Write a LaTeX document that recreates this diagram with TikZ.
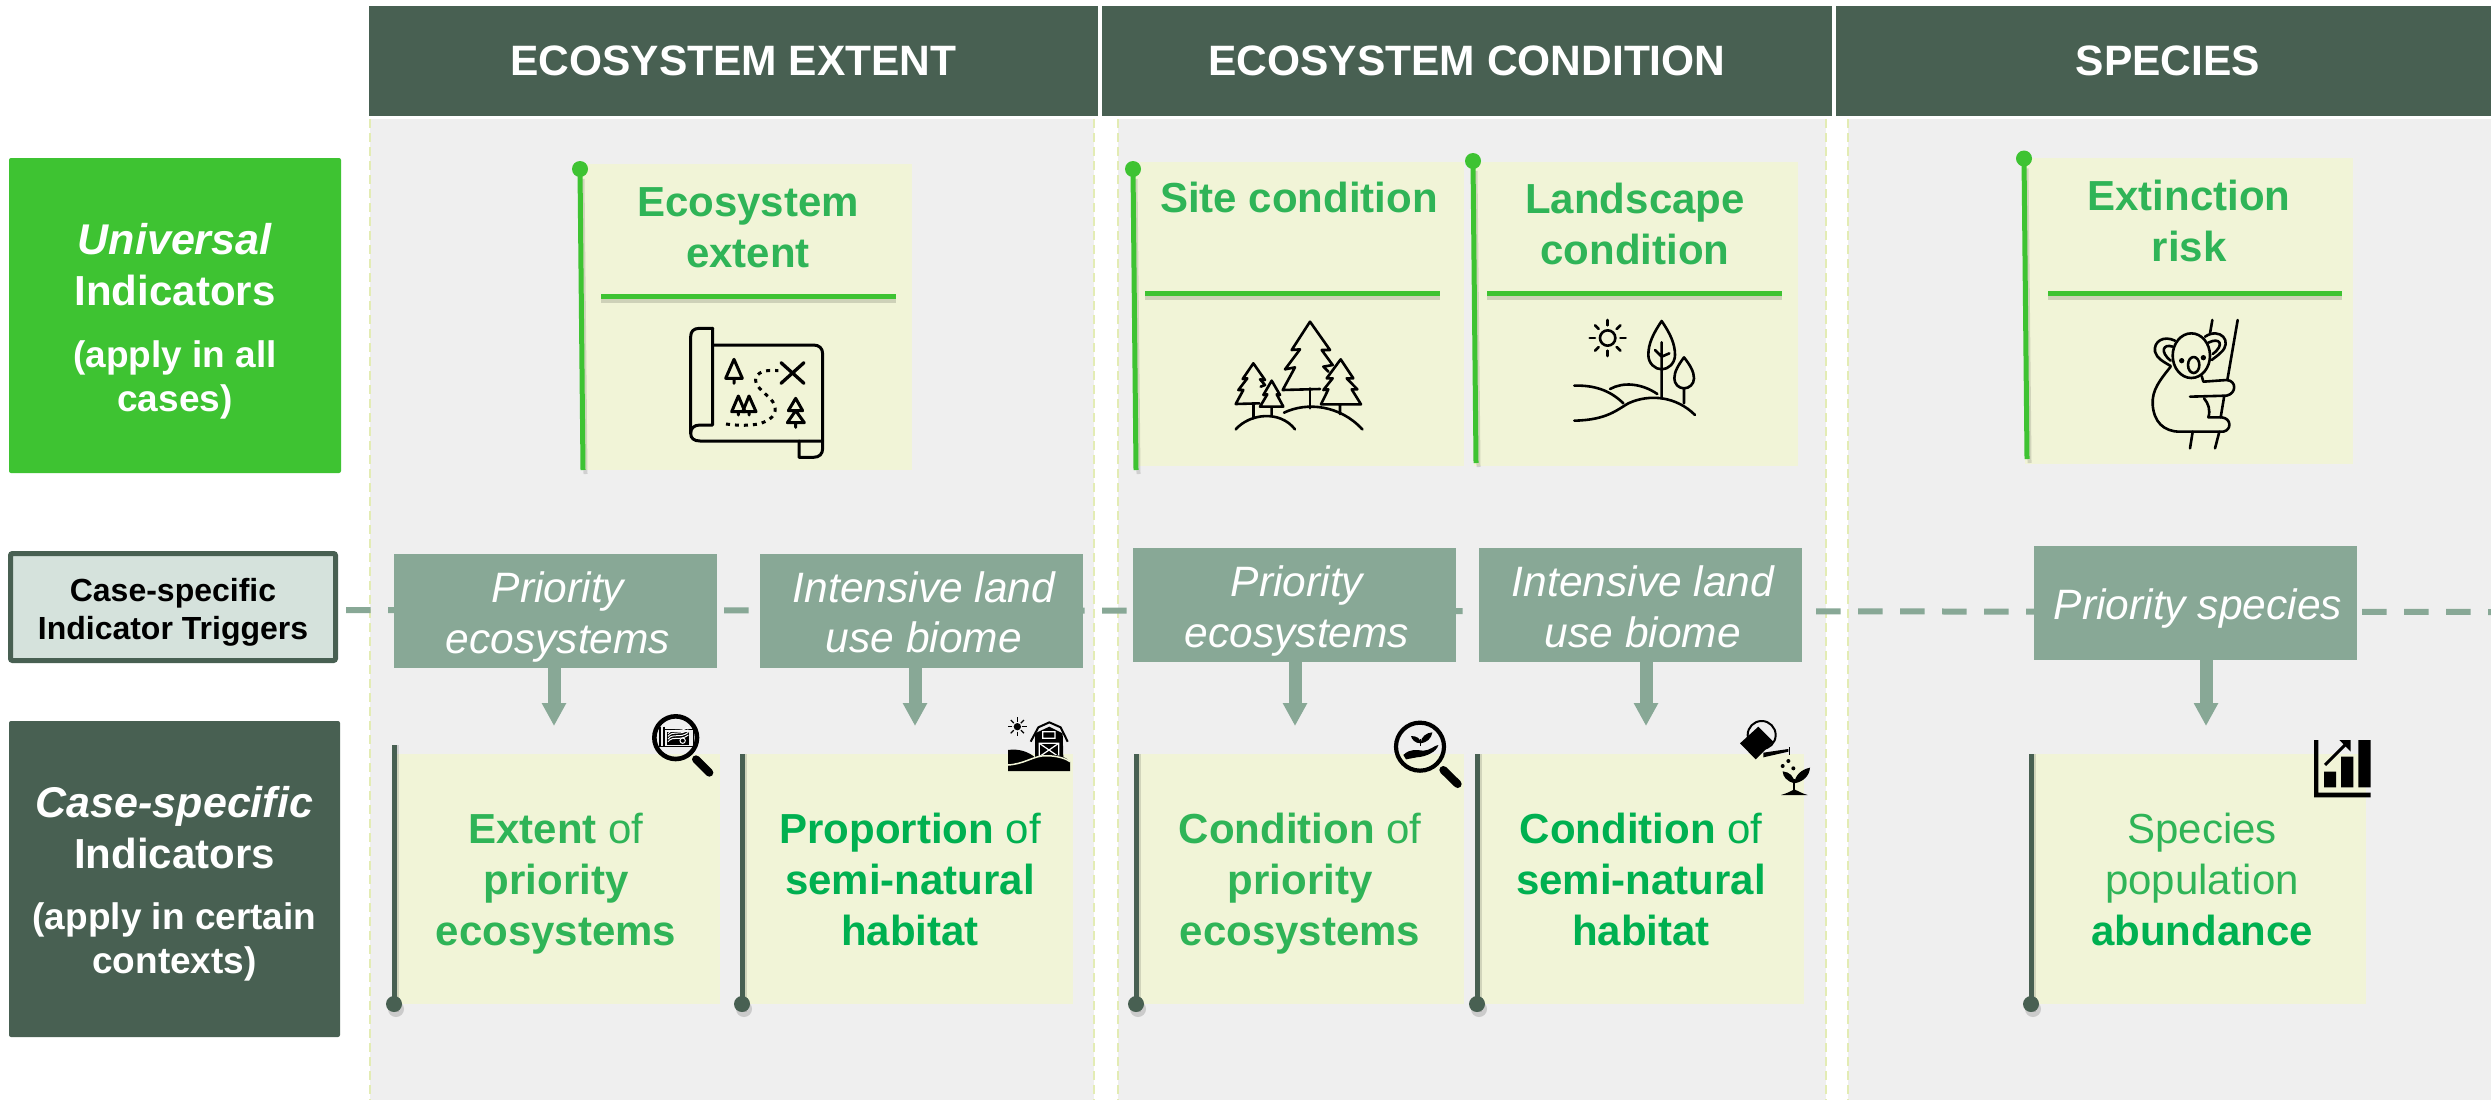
\documentclass[tikz,border=0pt]{standalone}
\usepackage{fontspec}
\setmainfont{Liberation Sans}
\usetikzlibrary{arrows.meta,shapes.geometric,calc}
\definecolor{hdr}{HTML}{486052}
\definecolor{uni}{HTML}{3EC332}
\definecolor{trg}{HTML}{88A896}
\definecolor{trl}{HTML}{D5E2DC}
\definecolor{crd}{HTML}{F1F4D7}
\definecolor{pnl}{HTML}{EFEFEF}
\definecolor{pedge}{HTML}{E3ECB4}
\definecolor{gtx}{HTML}{2FB457}
\definecolor{gbd}{HTML}{00B050}
\newcommand{\fsz}[2]{\fontsize{#1}{#2}\selectfont}
\newcommand{\vup}[1]{\rule{0pt}{#1pt}}
\newcommand{\gbarr}[4]{%
 \draw[line width=4pt,black,opacity=.13] (#1+2.5,#2+10) -- (#3+2.5,#4+4);
 \draw[line width=5pt,uni] (#1,#2) -- (#3,#4);
 \fill[uni] (#1,#2) circle (8);}
\newcommand{\dbarr}[3]{%
 \draw[line width=4pt,black,opacity=.13] (#1+2.5,#2) -- (#1+2.5,#3+8);
 \draw[line width=5pt,hdr] (#1,#2) -- (#1,#3);
 \fill[black,opacity=.15] (#1+2,#3+5) circle (8);
 \fill[hdr] (#1,#3) circle (8);}
\newcommand{\grule}[3]{%
 \draw[line width=5pt,black,opacity=.14] (#1,#3+4) -- (#2,#3+4);
 \draw[line width=5pt,uni] (#1,#3) -- (#2,#3);}
\tikzset{
 hbox/.style={fill=hdr,draw=none,inner sep=0pt,outer sep=0pt,text=white,align=center,font=\bfseries\fsz{42.5}{50}},
 side/.style={rounded corners=2pt,inner sep=0pt,outer sep=0pt,text=white,align=center,font=\bfseries\fsz{42}{51}},
 pbox/.style={fill=trg,inner sep=0pt,outer sep=0pt,text=white,align=center,font=\itshape\fsz{42.5}{50.5}},
 card/.style={fill=crd,inner sep=0pt,outer sep=0pt,anchor=north west},
 ttl/.style={inner sep=0pt,outer sep=0pt,align=center,anchor=base,text=gtx,font=\bfseries\fsz{42}{51}},
 pline/.style={line width=2pt,pedge,dash pattern=on 9pt off 5pt},
 trigarrow/.style={line width=13pt,trg,-{Triangle[length=23pt,width=23pt]}},
 ic/.style={line width=2.6pt,black,line join=round,line cap=round},
}
\begin{document}
\begin{tikzpicture}[x=1pt,y=-1pt]
\useasboundingbox (0,0) rectangle (2491,1100);
\fill[white] (0,0) rectangle (2491,1100);
% panels
\fill[pnl] (370,119) rectangle (1094,1100);
\fill[pnl] (1118,119) rectangle (1826,1100);
\fill[pnl] (1848,119) rectangle (2491,1100);
\foreach \px in {370,1094,1118,1826,1848} \draw[pline] (\px,119) -- (\px,1100);
% headers
\node[hbox,minimum width=729pt,minimum height=110pt,anchor=north west] (h1) at (369,6) {ECOSYSTEM EXTENT};
\node[hbox,minimum width=730pt,minimum height=110pt,anchor=north west] (h2) at (1102,6) {ECOSYSTEM CONDITION};
\node[hbox,minimum width=655pt,minimum height=110pt,anchor=north west] (h3) at (1836,6) {\hspace*{9pt}SPECIES};
% side boxes
\node[side,fill=uni,minimum width=332pt,minimum height=315pt,anchor=north west] (uni) at (9,158) {\vup{43}\fsz{43}{51}\textit{Universal}\\Indicators\\[11pt]\fsz{37}{44}(apply in all\\[-7pt]\fsz{37}{44}cases)};
\node[side,fill=trl,draw=hdr,line width=5pt,text=black,font=\bfseries\fsz{32}{38},minimum width=325pt,minimum height=107pt,anchor=north west] (trig) at (10.5,553.5) {\vup{33}Case-specific\\Indicator Triggers};
\node[side,fill=hdr,minimum width=331pt,minimum height=316pt,anchor=north west] (cas) at (9,721) {\vup{41}\fsz{43}{51}\textit{Case-specific}\\Indicators\\[10pt]\fsz{37}{44}(apply in certain\\[-7pt]\fsz{37}{44}contexts)};
% trigger dashed line
\coordinate (dashL) at (338,610);
\coordinate (dashR) at (2491,612);
\draw[trg,line width=6pt,dash pattern=on 24.5pt off 17.5pt,dash phase=34pt] (dashL) -- (dashR);
% trigger boxes
\node[pbox,minimum width=323pt,minimum height=113.5pt,anchor=north west] (p1) at (394,554) {\vup{43}\hspace*{5pt}Priority\\\hspace*{5pt}ecosystems};
\node[pbox,minimum width=323pt,minimum height=113.5pt,anchor=north west] (p2) at (760,554) {\vup{34}\hspace*{5pt}Intensive land\\\hspace*{5pt}use biome};
\node[pbox,minimum width=323pt,minimum height=114pt,anchor=north west] (p3) at (1133,548) {\vup{43}\hspace*{5pt}Priority\\\hspace*{5pt}ecosystems};
\node[pbox,minimum width=323pt,minimum height=114pt,anchor=north west] (p4) at (1479,548) {\vup{34}\hspace*{5pt}Intensive land\\\hspace*{5pt}use biome};
\node[pbox,minimum width=323pt,minimum height=114pt,anchor=north west] (p5) at (2034,546) {\vup{41}\hspace*{5pt}Priority species};
% arrow ends
\coordinate (a1) at (554,726);
\coordinate (a2) at (915,726);
\coordinate (a3) at (1295,726);
\coordinate (a4) at (1646,726);
\coordinate (a5) at (2206,726);
\foreach \b/\e in {p1/a1,p2/a2,p3/a3,p4/a4,p5/a5} \draw[trigarrow] (\e |- \b.south) -- (\e);
% top cards
\node[card,minimum width=331pt,minimum height=306pt] (c1) at (581,164) {};
\node[card,minimum width=330pt,minimum height=304pt] (c2) at (1134,162) {};
\node[card,minimum width=324pt,minimum height=304pt] (c3) at (1474,162) {};
\node[card,minimum width=328pt,minimum height=306pt] (c4) at (2025,158) {};
\gbarr{580}{169}{583}{470}
\gbarr{1133}{169}{1136}{470}
\gbarr{1473}{161}{1476}{463}
\gbarr{2024}{158.5}{2027}{459}
\grule{601}{896}{296}
\grule{1145}{1440}{293}
\grule{1487}{1782}{293}
\grule{2048}{2342}{293}
\node[ttl] (t1) at (748,267) {Ecosystem\\extent};
\node[ttl] (t2) at (1299,212) {Site condition};
\node[ttl] (t3) at (1635,264) {Landscape\\condition};
\node[ttl] (t4) at (2189,261) {Extinction\\risk};
% bottom cards
\node[card,minimum width=326pt,minimum height=250pt] (b1) at (394,754) {};
\node[card,minimum width=331pt,minimum height=250pt] (b2) at (742,754) {};
\node[card,minimum width=328pt,minimum height=250pt] (b3) at (1136,754) {};
\node[card,minimum width=327pt,minimum height=250pt] (b4) at (1477,754) {};
\node[card,minimum width=335pt,minimum height=250pt] (b5) at (2031,754) {};
\dbarr{394}{745}{1004}
\dbarr{742}{754}{1004}
\dbarr{1136}{754}{1004}
\dbarr{1477}{754}{1004}
\dbarr{2031}{754}{1004}
\node[ttl] (l1) at (556,945) {Extent {\mdseries of}\\priority\\ecosystems};
\node[ttl,text=gbd] (l2) at (910,945) {Proportion {\mdseries of}\\semi-natural\\habitat};
\node[ttl] (l3) at (1300,945) {Condition {\mdseries of}\\priority\\ecosystems};
\node[ttl,text=gbd] (l4) at (1641,945) {Condition {\mdseries of}\\semi-natural\\habitat};
\node[ttl] (l5) at (2202,945) {{\mdseries Species}\\{\mdseries population}\\\textcolor{gbd}{abundance}};
% --- icon: map
\begin{scope}[shift={(670,320)},scale=0.33333]
\draw[ic,line width=3pt] (128,25) -- (88,25) .. controls (70,25) and (62,35) .. (62,50) -- (62,340) .. controls (62,355) and (72,363) .. (90,363) -- (458,363);
\draw[ic,line width=3pt] (128,25) -- (128,315) -- (90,315) .. controls (72,315) and (62,325) .. (62,340);
\draw[ic,line width=3pt] (128,75) -- (430,75) .. controls (448,75) and (458,85) .. (458,102) -- (458,385) .. controls (458,402) and (448,412) .. (430,412) -- (387,412) -- (387,363);
\draw[ic,line width=3pt] (192,118) -- (167,175) -- (217,175) -- cycle (192,175) -- (192,190);
\draw[ic,line width=3pt] (205,228) -- (185,275) -- (225,275) -- cycle (205,275) -- (205,285);
\draw[ic,line width=3pt] (237,228) -- (218,275) -- (258,275) -- cycle (237,275) -- (237,285);
\draw[ic,line width=3pt] (377,235) -- (355,272) -- (398,272) -- cycle (377,272) -- (352,308) -- (403,308) -- cycle (377,308) -- (377,322);
\draw[ic,line width=3.3pt] (333,128) -- (402,190) (402,128) -- (333,190);
\draw[line width=3pt,black,dash pattern=on 4pt off 5pt] (168,312) .. controls (210,318) and (260,318) .. (285,305) .. controls (320,290) and (325,260) .. (300,235) .. controls (280,215) and (250,195) .. (258,172) .. controls (268,150) and (300,150) .. (325,152);
\end{scope}
% --- icon: forest and landscape
\begin{scope}[shift={(1220,310)},scale=0.33333]
\draw[ic] (300,237) -- (188,240) -- (225,172) -- (195,178) -- (240,118) -- (215,120) -- (270,35) -- (330,120) -- (305,120) -- (338,165) -- (310,170) -- (325,185);
\draw[ic] (270,235) -- (270,295);
\draw[ic] (122,230) -- (135,225) -- (120,208) -- (135,210) -- (100,160) -- (68,207) -- (82,205) -- (55,240) -- (70,240) -- (47,282) -- (118,280);
\draw[ic] (100,282) -- (100,325);
\draw[ic] (155,212) -- (130,255) -- (142,253) -- (120,290) -- (190,290) -- (170,253) -- (180,255) -- cycle (155,290) -- (155,315);
\draw[ic] (362,148) -- (320,205) -- (338,205) -- (310,240) -- (325,238) -- (303,283) -- (423,283) -- (395,238) -- (412,238) -- (380,205) -- (400,205) -- cycle (360,283) -- (360,312);
\draw[ic] (47,358) .. controls (90,310) and (180,300) .. (225,358);
\draw[ic] (192,308) .. controls (260,275) and (360,285) .. (427,358);
\draw[ic] (1163,84) circle (23);
\foreach \ang in {0,45,...,315} \draw[ic] ($(1163,84)+(\ang:38)$) -- ($(1163,84)+(\ang:54)$);
\draw[ic] (1325,33) .. controls (1300,70) and (1285,100) .. (1285,135) .. controls (1285,160) and (1305,178) .. (1325,178) .. controls (1345,178) and (1365,160) .. (1365,135) .. controls (1365,100) and (1350,70) .. cycle;
\draw[ic] (1325,97) -- (1325,265) (1305,120) -- (1325,140) -- (1348,130);
\draw[ic] (1392,142) .. controls (1375,165) and (1363,185) .. (1363,205) .. controls (1363,222) and (1376,235) .. (1392,235) .. controls (1408,235) and (1422,222) .. (1422,205) .. controls (1422,185) and (1410,165) .. cycle (1392,235) -- (1392,280);
\draw[ic] (1063,332) .. controls (1160,330) and (1190,300) .. (1225,280) .. controls (1290,250) and (1370,260) .. (1425,315);
\draw[ic] (1063,227) .. controls (1120,225) and (1170,240) .. (1210,280);
\draw[ic] (1170,237) .. controls (1210,215) and (1265,220) .. (1312,252);
\end{scope}
% --- icon: koala
\begin{scope}[shift={(2130,310)},scale=0.33333]
\draw[ic] (184,137) ellipse (56 and 67);
\draw[ic] (135,92) .. controls (100,75) and (70,95) .. (75,125) .. controls (80,145) and (100,155) .. (122,168);
\draw[ic] (128,110) .. controls (100,100) and (88,125) .. (122,152);
\draw[ic] (225,80) .. controls (270,50) and (310,95) .. (272,128) .. controls (262,138) and (255,142) .. (245,150);
\draw[ic] (235,98) .. controls (270,80) and (285,105) .. (248,132);
\fill (155,152) circle (8) (220,143) circle (8);
\draw[ic] (191,165) ellipse (17 and 24);
\draw[ic] (122,170) .. controls (90,210) and (65,240) .. (68,285) .. controls (72,335) and (100,365) .. (150,365) -- (280,365) .. controls (305,360) and (305,325) .. (275,322) -- (235,322) .. controls (242,300) and (235,280) .. (222,265);
\draw[ic] (180,260) -- (290,257) .. controls (320,250) and (320,212) .. (290,210) -- (220,215) -- (215,198);
\draw[ic] (323,30) -- (292,210) (282,262) -- (272,322) (247,30) -- (240,70) (188,365) -- (180,415) (268,365) -- (255,415);
\end{scope}
% --- icon: magnifier with map; barn
\begin{scope}[shift={(640,700)},scale=0.33333]
\draw[line width=4.6pt,black] (107,113) circle (64);
\draw[line width=8pt,black,line cap=round] (168,178) -- (208,218);
\draw[black,line width=1.4pt] (60,80) -- (60,140) -- (160,140) -- (160,88) -- (72,88) (72,80) -- (72,140);
\fill[black] (82,95) rectangle (147,134);
\foreach \o in {0,8,16,24} \draw[white,line width=1pt] (84,125-\o) .. controls (100,105-\o) and (120,125-\o) .. (145,105-\o);
\draw[white,line width=1pt] (128,122) circle (8);
\fill[black] (1132,80) circle (11);
\foreach \ang in {0,45,...,315} \draw[black,line width=1.2pt] ($(1132,80)+(\ang:15)$) -- ($(1132,80)+(\ang:28)$);
\draw[black,line width=2pt,line join=round] (1172,125) -- (1195,82) -- (1228,67) -- (1262,82) -- (1283,125);
\fill[black] (1185,100) -- (1228,80) -- (1268,100) -- (1270,175) -- (1185,175) -- cycle;
\draw[white,line width=1.2pt] (1208,95) rectangle (1245,115) (1198,130) rectangle (1256,170) (1198,130) -- (1256,170) (1256,130) -- (1198,170);
\fill[black] (1104,213) -- (1104,150) .. controls (1135,145) and (1165,155) .. (1185,172) .. controls (1220,160) and (1270,160) .. (1290,185) -- (1290,213) -- cycle;
\draw[crd,line width=1.5pt] (1104,195) .. controls (1150,192) and (1175,172) .. (1205,168) .. controls (1230,165) and (1270,170) .. (1290,185);
\end{scope}
% --- icon: magnifier with hand; watering can
\begin{scope}[shift={(1380,700)},scale=0.33333]
\draw[line width=4.2pt,black] (120,140) circle (72);
\draw[line width=8pt,black,line cap=round] (190,210) -- (233,252);
\fill[black] (70,165) .. controls (90,145) and (110,150) .. (130,152) .. controls (150,152) and (165,135) .. (175,135) .. controls (170,155) and (140,170) .. (110,172) -- (78,178) -- cycle;
\draw[black,line width=1.5pt] (122,138) -- (122,118);
\fill[black] (122,130) .. controls (105,130) and (95,118) .. (93,108) .. controls (110,108) and (122,115) .. cycle;
\fill[black] (122,130) .. controls (122,110) and (140,98) .. (157,97) .. controls (155,115) and (140,128) .. cycle;
\draw[line width=2pt,black] (1145,105) circle (42);
\fill[black] (1080,130) -- (1135,80) -- (1180,125) -- (1127,178) -- cycle;
\fill[black] (1150,158) -- (1225,147) -- (1225,155) -- (1150,172) -- cycle;
\draw[black,line width=1.6pt] (1228,142) -- (1228,165);
\fill[black] (1225,183) circle (6) (1208,198) circle (6) (1240,205) circle (6);
\draw[black,line width=2pt] (1243,280) -- (1243,238);
\fill[black] (1243,250) .. controls (1222,245) and (1208,230) .. (1208,214) .. controls (1228,216) and (1243,228) .. cycle;
\fill[black] (1243,250) .. controls (1245,225) and (1265,208) .. (1290,203) .. controls (1288,228) and (1270,245) .. cycle;
\fill[black] (1203,285) .. controls (1222,280) and (1235,272) .. (1243,268) .. controls (1252,272) and (1265,280) .. (1283,285) -- cycle;
\end{scope}
% --- icon: bar chart
\begin{scope}[shift={(2290,725)},scale=0.33333]
\fill[black] (72,45) rectangle (85,217) (72,203) rectangle (242,217);
\fill[black] (102,140) rectangle (138,187) (153,95) rectangle (190,187) (205,45) rectangle (242,187);
\draw[black,line width=3pt] (105,120) -- (170,55);
\fill[black] (148,45) -- (182,45) -- (182,80) -- cycle;
\end{scope}
\end{tikzpicture}
\end{document}
